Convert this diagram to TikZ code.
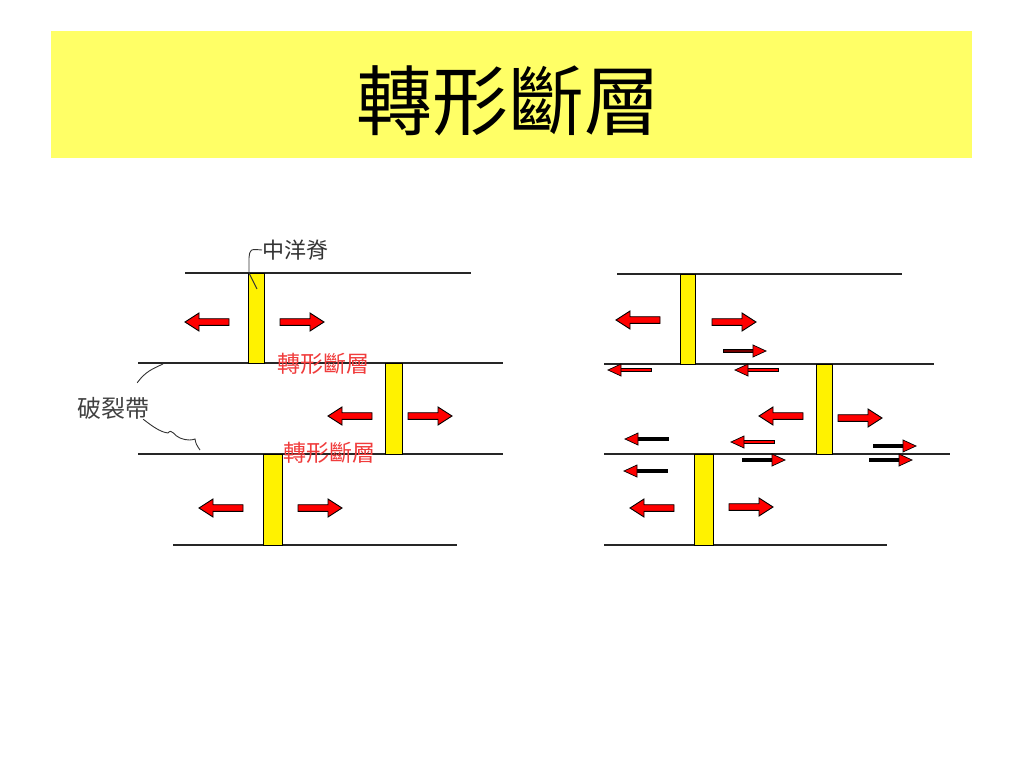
\documentclass[tikz,border=0pt]{standalone}
\usepackage{fontspec}
\usepackage{xcolor}
\usepackage{tikz}
\newfontfamily\cjk{Noto Sans CJK TC}
\definecolor{bandyellow}{RGB}{255,255,102}
\definecolor{labelred}{RGB}{240,60,60}

\begin{document}
\begin{tikzpicture}[x=1pt,y=-1pt,
      plate/.style={draw=black!85,line width=1.4pt},
      ridge/.style={draw=black,line width=1pt,fill=yellow},
      leader/.style={draw=black!80,line width=0.9pt},
      label/.style={inner sep=0pt,font=\cjk\fontsize{23}{23}\selectfont},
      pics/bigarrow/.style={code={
        \draw[fill=red,line width=0.9pt] (0,-3.3) -- (30,-3.3) -- (30,-9) -- (44,0)
          -- (30,9) -- (30,3.3) -- (0,3.3) -- cycle;}},
      pics/smallarrow/.style={code={
        \draw[fill=#1,line width=0.6pt] (0,-1.7) rectangle (31,1.7);
        \draw[fill=red,line width=0.7pt] (30,-6) -- (43,0) -- (30,6) -- cycle;}}]
      \useasboundingbox (0,0) rectangle (1024,768);
      % title band
      \fill[bandyellow] (51,31) rectangle (972,158);
      \node (title) at (508,101) {\cjk\fontsize{76}{76}\selectfont 轉形斷層};

      % left picture: ridge with transform faults
      \draw[plate] (185,273) -- (471,273);
      \draw[plate] (138,363) -- (503,363);
      \draw[plate] (138,454) -- (503,454);
      \draw[plate] (173,545) -- (457,545);
      \draw[ridge] (248,273) rectangle (264,363);
      \draw[ridge] (385,363) rectangle (402,454);
      \draw[ridge] (263,454) rectangle (282,545);
      \foreach \x/\y/\s in {229/322/-1, 280/322/1, 372/416/-1, 408/416/1, 243/508/-1, 298/508/1}
        \pic[xscale=\s] at (\x,\y) {bigarrow};
      \node[label,text=labelred] (faultA) at (323,364) {轉形斷層};
      \node[label,text=labelred] (faultB) at (329,453) {轉形斷層};
      \node[label,text=black!80,font=\cjk\fontsize{22}{22}\selectfont,anchor=west] (ridgelabel) at (262,250) {中洋脊};
      \node[label,text=black!75,font=\cjk\fontsize{24}{24}\selectfont] (zonelabel) at (113,408) {破裂帶};
      \coordinate (ridgetip) at (257,289);
      \coordinate (zonetop) at (163,364);
      \coordinate (zonebot) at (200,450);
      \draw[leader] (ridgelabel.west) .. controls (250,249) .. (249,258) -- (249,273) -- (ridgetip);
      \draw[leader] (zonelabel.north east) ++(-12,-14) .. controls (145,372) and (152,369) .. (zonetop);
      \draw[leader] (zonelabel.south east) ++(-6,0) .. controls (152,426) and (160,432) .. (168,433)
        .. controls (172,428) and (174,436) .. (180,438) .. controls (188,441) and (192,440) .. (195,439)
        .. controls (196,444) .. (zonebot);

      % right picture: motions along the faults
      \draw[plate] (617,274) -- (902,274);
      \draw[plate] (604,364) -- (934,364);
      \draw[plate] (604,454) -- (950,454);
      \draw[plate] (604,545) -- (887,545);
      \draw[ridge] (680,274) rectangle (695,364);
      \draw[ridge] (816,364) rectangle (832,454);
      \draw[ridge] (694,454) rectangle (713,545);
      \foreach \x/\y/\s in {660/320/-1, 712/322/1, 803/416/-1, 838/418/1, 674/508/-1, 729/507/1}
        \pic[xscale=\s] at (\x,\y) {bigarrow};
      \foreach \x/\y/\s/\c in {723/351/1/red!45!black, 651/370/-1/red, 778/370/-1/red,
          668/439/-1/black, 774/442/-1/red, 873/446/1/black, 742/460/1/black,
          869/460/1/black, 667/471/-1/black}
        \pic[xscale=\s] at (\x,\y) {smallarrow=\c};
    \end{tikzpicture}
\end{document}
